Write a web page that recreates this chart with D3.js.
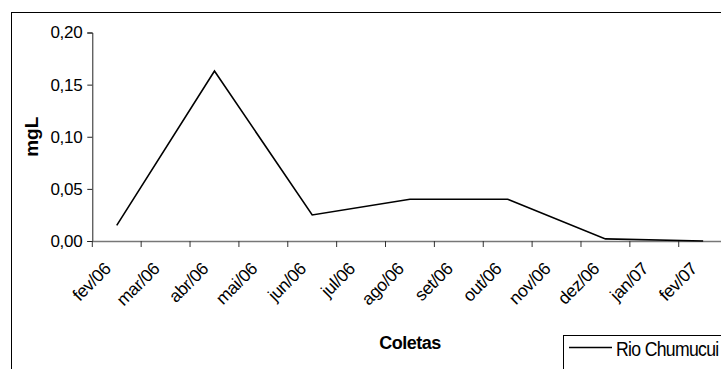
<!DOCTYPE html>
<html><head><meta charset="utf-8">
<script src="https://cdn.jsdelivr.net/npm/d3@7"></script>
<style>body{margin:0;background:#fff}svg{display:block}text{font-family:"Liberation Sans",Arial,sans-serif}</style>
</head><body>
<svg id="c" width="721" height="369"></svg>
<script>
const months = ["fev/06","mar/06","abr/06","mai/06","jun/06","jul/06","ago/06","set/06","out/06","nov/06","dez/06","jan/07","fev/07"];
const values = [0.015, null, 0.163, null, 0.025, null, 0.040, null, 0.040, null, 0.002, null, 0.000];
const yTicks = [0, 0.05, 0.10, 0.15, 0.20];
const seriesName = "Rio Chumucui";
const xTitle = "Coletas", yTitle = "mgL";

(function(){
const svg = d3.select("#c");
svg.append("rect").attr("x",11.5).attr("y",12.5).attr("width",740).attr("height",400)
  .attr("fill","none").attr("stroke","#000").attr("stroke-width",1);

const pLeft = 92.3, pRight = 727.6, pTop = 32.5, pBottom = 241;
const x = d3.scaleBand().domain(months).range([pLeft, pRight]);
const y = d3.scaleLinear().domain([0, 0.2]).range([pBottom, pTop]);
const fmt = d => d3.format(".2f")(d).replace(".", ",");

// y axis
const ya = svg.append("g").attr("transform",`translate(${pLeft},0)`)
  .call(d3.axisLeft(y).tickValues(yTicks).tickFormat(fmt).tickSize(5).tickPadding(5));
ya.select(".domain").attr("stroke","#222");
ya.selectAll(".tick line").attr("stroke","#222");
ya.selectAll("text").attr("font-size",17).attr("letter-spacing","-0.3px").attr("fill","#000");

// x axis
const xa = svg.append("g").attr("transform",`translate(0,${pBottom})`)
  .call(d3.axisBottom(x).tickSize(0).tickFormat(""));
xa.select(".domain").attr("stroke","#777").attr("stroke-width",1.3);
const bounds = months.map(m => x(m)).concat([x(months[months.length-1]) + x.bandwidth()]);
svg.append("g").selectAll("line").data(bounds).join("line")
  .attr("x1",d=>d).attr("x2",d=>d).attr("y1",pBottom).attr("y2",pBottom+6)
  .attr("stroke","#333").attr("stroke-width",1);
svg.append("g").selectAll("text").data(months).join("text")
  .attr("transform", d => `translate(${x(d)+x.bandwidth()/2-5},${pBottom+29}) rotate(-45)`)
  .attr("text-anchor","end").attr("font-size",17.5).attr("letter-spacing","-0.4px")
  .text(d=>d);

// line
const pts = months.map((m,i)=>({m, v: values[i]})).filter(d => d.v !== null);
const line = d3.line().x(d => x(d.m) + x.bandwidth()/2).y(d => y(d.v));
svg.append("path").datum(pts).attr("d", line).attr("fill","none")
  .attr("stroke","#000").attr("stroke-width",1.6);

// titles
svg.append("text").attr("x",(pLeft+pRight)/2).attr("y",349).attr("text-anchor","middle")
  .attr("font-size",18).attr("font-weight","bold").attr("letter-spacing","-0.5px").text(xTitle);
svg.append("text").attr("transform",`translate(38,${(pTop+pBottom)/2}) rotate(-90)`)
  .attr("text-anchor","middle").attr("font-size",19).attr("font-weight","bold").text(yTitle);

// legend
const lg = svg.append("g");
lg.append("rect").attr("x",563.5).attr("y",335.5).attr("width",200).attr("height",60)
  .attr("fill","#fff").attr("stroke","#000");
lg.append("line").attr("x1",569).attr("x2",612).attr("y1",347.5).attr("y2",347.5)
  .attr("stroke","#000").attr("stroke-width",1.6);
lg.append("text").attr("transform","translate(616,356) scale(0.84,1)")
  .attr("font-size",21).attr("letter-spacing","-0.8px").text(seriesName);
})();
</script>
</body></html>
